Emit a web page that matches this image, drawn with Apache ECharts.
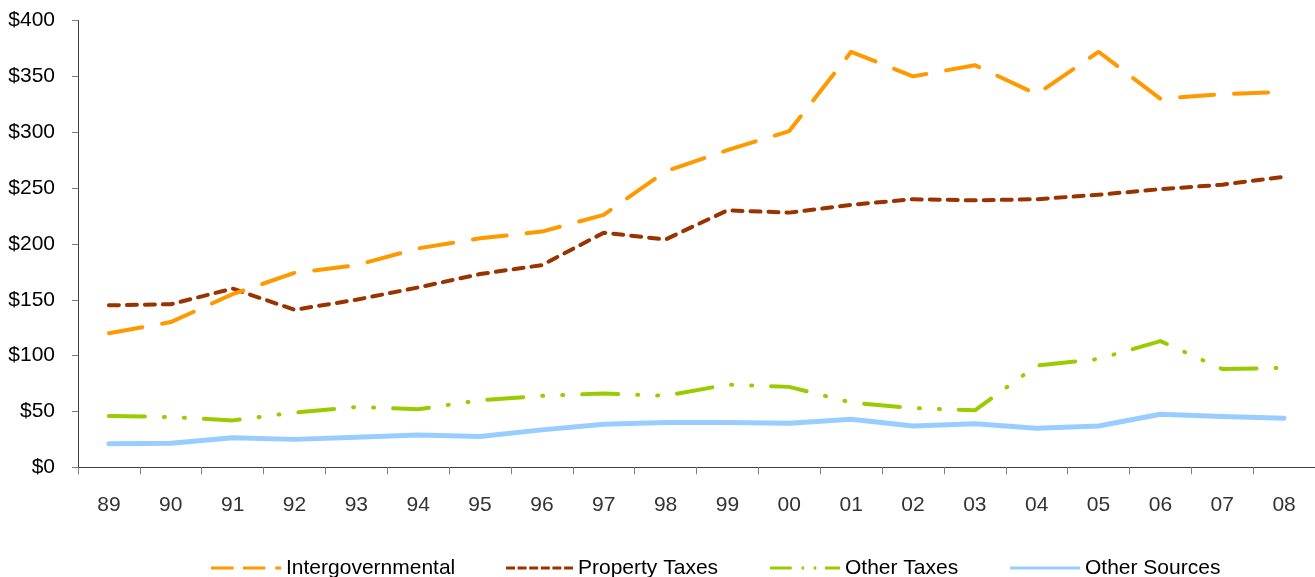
<!DOCTYPE html>
<html>
<head>
<meta charset="utf-8">
<script src="https://cdn.jsdelivr.net/npm/echarts@6/dist/echarts.min.js"></script>
<style>
html,body{margin:0;padding:0;background:#fff;}
#chart{width:1315px;height:577px;}
</style>
</head>
<body>
<div id="chart"></div>
<script>
const years = ['89','90','91','92','93','94','95','96','97','98','99','00','01','02','03','04','05','06','07','08'];
const intergovernmental = [120,130,155,174,181,196,205,211,226,265,284,301,372,350,360,334,372,330,334,336];
const propertyTaxes = [145,146,160,141,150,161,173,181,210,204,230,228,235,240,239,240,244,249,253,260];
const otherTaxes = [46,45,42,49,54,52,60,64,66,64,74,72,58,53,51,91,97,113,88,89];
const otherSources = [21,21.5,26.5,25,27,29,27.5,33.5,38.5,40,40,39.5,43,37,39,35,37,47.5,45.5,44];
const yTicks = [0,50,100,150,200,250,300,350,400];

const FONT = 'Liberation Sans, Arial, sans-serif';
const chart = echarts.init(document.getElementById('chart'), null, {renderer:'canvas'});

const ICONS = {
  'Intergovernmental': 'path://M0,0h22.7v3h-22.7z M32,0h22.3v3h-22.3z M64.3,0h5.7v3h-5.7z',
  'Property Taxes': 'path://M0,0h9v3h-9z M11.6,0h9v3h-9z M23.2,0h9v3h-9z M34.8,0h9v3h-9z M46.4,0h9v3h-9z M58,0h9v3h-9z',
  'Other Taxes': 'path://M0,0h21.7v3h-21.7z M31.5,0h2.6v3h-2.6z M43.7,0h2.6v3h-2.6z M55,0h15v3h-15z',
  'Other Sources': 'path://M0,0h70v3h-70z'
};

function legendAt(name, left, width) {
  return {
    data:[{name:name, icon:ICONS[name]}], left:left, top:557.5, itemWidth:width, itemHeight:3, itemGap:6,
    textStyle:{fontFamily:FONT, fontSize:21, color:'#000'},
    padding:0
  };
}

chart.setOption({
  animation:false,
  backgroundColor:'#fff',
  grid:{left:78, right:0, top:20.5, bottom:109.7, containLabel:false},
  legend:[
    legendAt('Intergovernmental', 211, 70),
    legendAt('Property Taxes', 506, 67),
    legendAt('Other Taxes', 770, 70),
    legendAt('Other Sources', 1010, 70)
  ],
  xAxis:{
    type:'category', data:years, boundaryGap:true,
    axisLine:{lineStyle:{color:'#404040', width:1}},
    axisTick:{show:true, length:7, lineStyle:{color:'#808080'}},
    axisLabel:{fontFamily:FONT, fontSize:21, color:'#333', margin:27}
  },
  yAxis:{
    type:'value', min:0, max:400, interval:50,
    axisLine:{show:true, lineStyle:{color:'#404040', width:1}},
    axisTick:{show:true, length:6, lineStyle:{color:'#808080'}},
    splitLine:{show:false},
    axisLabel:{fontFamily:FONT, fontSize:21, color:'#000', margin:23,
      formatter:function(v){ return yTicks.indexOf(v) >= 0 ? '$' + v : ''; }}
  },
  series:[
    {name:'Intergovernmental', type:'line', data:intergovernmental, symbol:'none', z:4,
      itemStyle:{color:'#FF9900'},
      lineStyle:{color:'#FF9900', width:4, type:[34,20], cap:'round', join:'round'}},
    {name:'Property Taxes', type:'line', data:propertyTaxes, symbol:'none', z:3,
      itemStyle:{color:'#993300'},
      lineStyle:{color:'#993300', width:4, type:[10,8], cap:'round', join:'round'}},
    {name:'Other Taxes', type:'line', data:otherTaxes, symbol:'none', z:2,
      itemStyle:{color:'#99CC00'},
      lineStyle:{color:'#99CC00', width:4, type:[36,19,1,19,1,19], cap:'round', join:'round'}},
    {name:'Other Sources', type:'line', data:otherSources, symbol:'none', z:1,
      itemStyle:{color:'#99CCFF'},
      lineStyle:{color:'#99CCFF', width:5, type:'solid', cap:'round', join:'round'}}
  ]
});
</script>
</body>
</html>
